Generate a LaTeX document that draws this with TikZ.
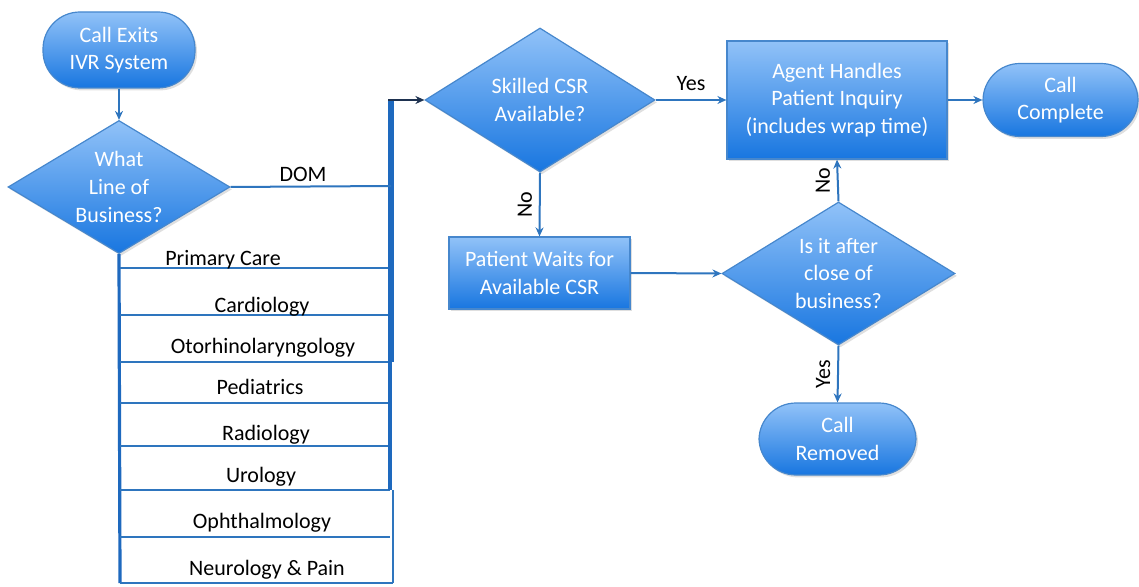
\documentclass[tikz,border=0pt]{standalone}
\usepackage{fontspec}
\setmainfont{Carlito}
\usetikzlibrary{shapes.geometric,shadows,arrows.meta}
\definecolor{lnc}{RGB}{46,117,190}
\definecolor{barc}{RGB}{30,105,190}
\definecolor{bdc}{RGB}{70,135,205}
\definecolor{ftc}{RGB}{145,194,248}
\definecolor{fbc}{RGB}{24,118,224}
\definecolor{darkc}{RGB}{30,50,80}
\begin{document}
\begin{tikzpicture}[x=0.5pt,y=-0.5pt,
  shp/.style={draw=bdc, line width=0.6pt, top color=ftc, bottom color=fbc,
    drop shadow={opacity=0.25,shadow xshift=1pt,shadow yshift=-1.2pt}},
  term/.style={shp, rectangle, rounded corners=18.5pt, inner sep=0pt},
  proc/.style={shp, rectangle, inner sep=0pt},
  dia/.style={shp, diamond, inner sep=0pt},
  wt/.style={text=white, font=\fontsize{11}{13.8}\selectfont, align=center},
  bt/.style={text=black, font=\fontsize{11}{13.8}\selectfont},
  arr/.style={draw=lnc, line width=1pt, -{Stealth[length=4.5pt,width=4pt]}},
  hl/.style={draw=lnc, line width=1pt},
  vl/.style={draw=barc, line width=1.6pt},
  bar/.style={draw=barc, line width=2.6pt},
]
\useasboundingbox (0,0) rectangle (1139,587);

% shapes
\node[term, minimum width=76pt, minimum height=38pt, wt] (start) at (119,50) {Call Exits\\IVR System};
\node[dia, minimum width=111pt, minimum height=66.5pt] (lob) at (119,187) {};
\node[wt] (lobt) at (lob) {What\\Line of\\Business?};
\node[dia, minimum width=115pt, minimum height=72pt] (skl) at (540,100) {};
\node[wt] (sklt) at (skl) {Skilled CSR\\Available?};
\node[proc, minimum width=110pt, minimum height=59pt, wt] (agent) at (837,100) {Agent Handles\\Patient Inquiry\\(includes wrap time)};
\node[term, minimum width=77.5pt, minimum height=36.5pt, wt] (done) at (1060.5,100) {Call\\Complete};
\node[proc, minimum width=90.5pt, minimum height=36pt, wt] (wait) at (539.5,273) {Patient Waits for\\Available CSR};
\node[dia, minimum width=116.5pt, minimum height=71.5pt] (close) at (838.5,273.5) {};
\node[wt] (closet) at (close) {Is it after\\close of\\business?};
\node[term, minimum width=78.5pt, minimum height=36pt, wt] (rem) at (837.5,439) {Call\\Removed};

% start to decision
\draw[arr] (start.south) -- (lob.north);

% list of lines of business
\coordinate (lbot) at (120,583);
\draw[vl] (lob.south) -- (lbot);
\foreach \i/\yy in {1/268,2/315,3/362,4/403,5/446,6/490,7/537} {
  \coordinate (l\i) at (120,\yy);
  \coordinate (r\i) at (390,\yy);
  \draw[hl] (l\i) -- (r\i);
}
\coordinate (r8) at (393,583);
\draw[hl] (lbot) -- (r8);

\node[bt, anchor=base] (t1) at (223,266) {Primary Care};
\node[bt, anchor=base] (t2) at (262,313) {Cardiology};
\node[bt, anchor=base] (t3) at (263,353) {Otorhinolaryngology};
\node[bt, anchor=base] (t4) at (260,394) {Pediatrics};
\node[bt, anchor=base] (t5) at (266,440) {Radiology};
\node[bt, anchor=base] (t6) at (261,482) {Urology};
\node[bt, anchor=base] (t7) at (262,528) {Ophthalmology};
\node[bt, anchor=base] (t8) at (267,575) {Neurology \& Pain};

% collecting bar
\coordinate (ctop) at (391,100);
\coordinate (cdom) at (391,186);
\coordinate (r3b) at (391,362);
\coordinate (r6b) at (393,490);
\draw[hl] (r6b) -- (r8);
\draw[draw=barc, line width=1.8pt] (r3) -- (r6);
\draw[bar] (r3b) -- ([yshift=0.7pt]ctop);
\draw[hl] (lob.east) -- (cdom);
\node[bt, anchor=base] (dom) at (303,182) {DOM};
\draw[draw=darkc, line width=1.4pt, -{Stealth[length=4.5pt,width=4pt]}] ([xshift=-1.3pt]ctop) -- (skl.west);

% main flow
\draw[arr] (skl.east) -- (agent.west) node[bt, midway, above=1pt] (yes1) {Yes};
\draw[arr] (agent.east) -- (done.west);
\draw[arr] (skl.south) -- (wait.north) node[bt, midway, rotate=90, anchor=south] (no1) {No};
\draw[arr] (wait.east) -- (close.west);
\draw[arr] (close.north) -- (agent.south) node[bt, midway, rotate=90, anchor=south] (no2) {No};
\draw[arr] (close.south) -- (rem.north) node[bt, midway, rotate=90, anchor=south] (yes2) {Yes};
\end{tikzpicture}
\end{document}
